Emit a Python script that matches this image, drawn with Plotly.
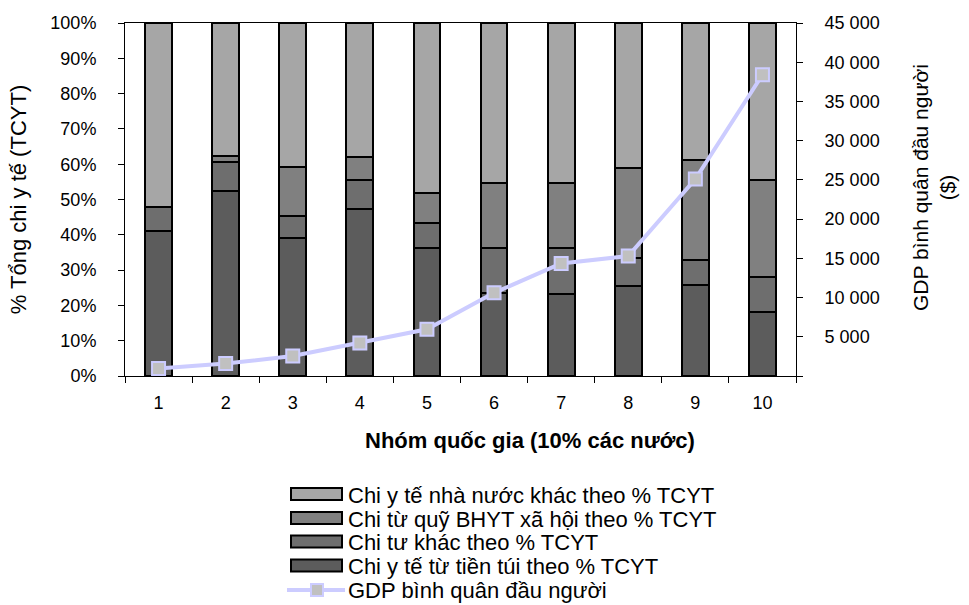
import plotly.graph_objects as go

groups = ["1", "2", "3", "4", "5", "6", "7", "8", "9", "10"]

# % of total health expenditure (TCYT)
out_of_pocket = [41.1, 52.4, 39.2, 47.2, 36.4, 23.4, 23.2, 25.5, 25.7, 18.2]
other_private = [6.9, 8.2, 6.2, 8.4, 6.9, 12.8, 13.1, 7.8, 7.2, 9.8]
social_insurance = [0.0, 1.8, 13.9, 6.3, 8.5, 18.4, 18.3, 25.6, 28.2, 27.5]
other_government = [52.0, 37.6, 40.7, 38.1, 48.2, 45.4, 45.4, 41.1, 38.9, 44.5]

# GDP per capita ($)
gdp_per_capita = [950, 1580, 2550, 4200, 5950, 10600, 14350, 15300, 25100, 38400]

series_names = [
    "Chi y tế từ tiền túi theo % TCYT",
    "Chi tư khác theo % TCYT",
    "Chi từ quỹ BHYT xã hội theo % TCYT",
    "Chi y tế nhà nước khác theo % TCYT",
]
gdp_name = "GDP bình quân đầu người"

y_ticks = [0, 10, 20, 30, 40, 50, 60, 70, 80, 90, 100]
y_ticktext = [f"{v}%" for v in y_ticks]
y2_ticks = [0, 5000, 10000, 15000, 20000, 25000, 30000, 35000, 40000, 45000]
y2_ticktext = [""] + [f"{v:,}".replace(",", " ") for v in y2_ticks[1:]]

colors = ["#5c5c5c", "#6e6e6e", "#808080", "#a6a6a6"]
LINE_COLOR = "#ccccff"
MARKER_COLOR = "#c0c0c0"
FONT = "Liberation Sans, Arial, sans-serif"

W, H = 969, 605
ML, MR, MT, MB = 125, 173, 23, 229
PW, PH = W - ML - MR, H - MT - MB


def px(xp):
    return (xp - ML) / PW


def py(yp):
    return (H - MB - yp) / PH


fig = go.Figure()
for vals, name, col in zip(
    [out_of_pocket, other_private, social_insurance, other_government],
    series_names, colors,
):
    fig.add_trace(go.Bar(
        x=groups, y=vals, name=name, width=0.4, showlegend=False,
        marker=dict(color=col, line=dict(color="black", width=2)),
    ))

fig.add_trace(go.Scatter(
    x=groups, y=gdp_per_capita, name=gdp_name, yaxis="y2",
    mode="lines+markers", showlegend=False,
    line=dict(color=LINE_COLOR, width=4),
    marker=dict(symbol="square", size=13, color=MARKER_COLOR,
                line=dict(color=LINE_COLOR, width=2)),
))

# Legend (drawn as in the original: wide boxes, tight rows)
shapes = []
annotations = []
legend_rows = [494, 518, 541.5, 565.5]
legend_items = list(zip(series_names[::-1], colors[::-1]))
for (name, col), yc in zip(legend_items, legend_rows):
    shapes.append(dict(type="rect", xref="paper", yref="paper",
                       x0=px(291), x1=px(342), y0=py(yc - 6), y1=py(yc + 6),
                       fillcolor=col, line=dict(color="black", width=2)))
    annotations.append(dict(text=name, xref="paper", yref="paper",
                            x=px(346), y=py(yc + 1), xanchor="left", yanchor="middle",
                            showarrow=False, font=dict(size=22)))
yl = 590
shapes.append(dict(type="line", xref="paper", yref="paper",
                   x0=px(287), x1=px(345), y0=py(yl), y1=py(yl),
                   line=dict(color=LINE_COLOR, width=4)))
shapes.append(dict(type="rect", xref="paper", yref="paper",
                   x0=px(311), x1=px(323), y0=py(yl - 6), y1=py(yl + 6),
                   fillcolor=MARKER_COLOR, line=dict(color=LINE_COLOR, width=2)))
annotations.append(dict(text=gdp_name, xref="paper", yref="paper",
                        x=px(346), y=py(yl), xanchor="left", yanchor="middle",
                        showarrow=False, font=dict(size=22)))

annotations += [
    dict(text="<b>Nhóm quốc gia (10% các nước)</b>", xref="paper", yref="paper",
         x=px(530), y=py(440), xanchor="center", yanchor="middle",
         showarrow=False, font=dict(size=22)),
    dict(text="GDP bình quân đầu người<br>($)", xref="paper", yref="paper",
         x=px(934), y=py(188), xanchor="center", yanchor="middle",
         textangle=-90, showarrow=False, font=dict(size=21)),
]

fig.update_layout(
    width=W, height=H,
    margin=dict(l=ML, r=MR, t=MT, b=MB, autoexpand=False),
    barmode="stack",
    plot_bgcolor="white", paper_bgcolor="white",
    font=dict(family=FONT, color="black", size=18),
    showlegend=False,
    xaxis=dict(
        type="category", range=[-0.5, 9.5],
        showline=True, linecolor="black", linewidth=1, mirror=True,
        ticks="outside", tickson="boundaries", ticklen=6, tickcolor="black",
        ticklabelstandoff=10,
        tickfont=dict(size=18),
    ),
    yaxis=dict(
        range=[0, 100], tickvals=y_ticks, ticktext=y_ticktext,
        showline=True, linecolor="black", linewidth=1,
        ticks="outside", ticklen=6, tickcolor="black",
        ticklabelstandoff=18, showgrid=False, zeroline=False,
        title=dict(text="% Tổng chi y tế (TCYT)", font=dict(size=22), standoff=17),
    ),
    yaxis2=dict(
        range=[0, 45000], tickvals=y2_ticks, ticktext=y2_ticktext,
        overlaying="y", side="right",
        showline=True, linecolor="black", linewidth=1,
        ticks="outside", ticklen=6, tickcolor="black",
        ticklabelstandoff=18, showgrid=False, zeroline=False,
    ),
    shapes=shapes,
    annotations=annotations,
)

fig.write_html("out.html")
